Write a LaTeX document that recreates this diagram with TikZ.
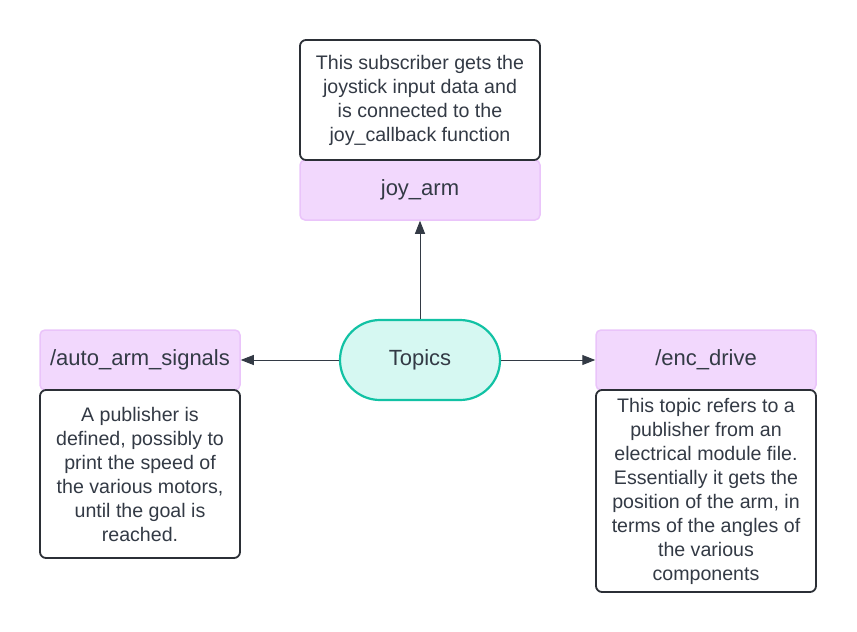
\documentclass[tikz,border=0pt]{standalone}
\usepackage{fontspec}
\setmainfont{Liberation Sans}
\usetikzlibrary{arrows.meta}
\definecolor{namefill}{HTML}{F2D8FD}
\definecolor{namedraw}{HTML}{EAC4FA}
\definecolor{hubfill}{HTML}{D6F8F2}
\definecolor{hubdraw}{HTML}{12C2A4}
\definecolor{inkgray}{HTML}{333A45}
\definecolor{notedraw}{HTML}{2B2F36}
\newcommand{\notefont}{\fontsize{19.6}{24}\selectfont}
\newcommand{\namefont}{\fontsize{22}{26}\selectfont}

\begin{document}
\begin{tikzpicture}[x=1pt,y=-1pt,
    topicname/.style={rectangle, rounded corners=5pt, draw=namedraw, fill=namefill,
        line width=1.5pt, text=inkgray, font=\namefont, inner sep=0pt, minimum height=60pt},
    note/.style={rectangle, rounded corners=6pt, draw=notedraw, fill=white,
        line width=1.8pt, text=inkgray, font=\notefont, align=center, inner sep=0pt},
    hub/.style={rectangle, rounded corners=40pt, draw=hubdraw, fill=hubfill,
        line width=2.2pt, text=inkgray, font=\namefont, minimum width=160pt, minimum height=80pt},
    link/.style={draw=inkgray, line width=1pt, -{Triangle[length=13pt,width=10pt]}}]
\useasboundingbox (0,0) rectangle (857,632);

    % centre
    \node[hub] (topics) at (420,360) {Topics};

    % top: subscriber
    \node[topicname, minimum width=240pt] (joy) at (420,190) {joy\_arm};
    \node[note, minimum width=240pt, minimum height=120pt] (joynote) at (420,100)
        {This subscriber gets the\\joystick input data and\\is connected to the\\joy\_callback function};

    % left: publisher
    \node[topicname, minimum width=200pt] (auto) at (140,360) {/auto\_arm\_signals};
    \node[note, minimum width=200pt, minimum height=168pt] (autonote) at (140,474)
        {A publisher is\\defined, possibly to\\print the speed of\\the various motors,\\until the goal is\\reached.};

    % right: encoder
    \node[topicname, minimum width=220pt] (enc) at (706,360) {/enc\_drive};
    \node[note, minimum width=220pt, minimum height=202pt] (encnote) at (706,491)
        {This topic refers to a\\publisher from an\\electrical module file.\\Essentially it gets the\\position of the arm, in\\terms of the angles of\\the various\\components};

    \draw[link] (topics) -- (joy);
    \draw[link] (topics) -- (auto);
    \draw[link] (topics) -- (enc);
\end{tikzpicture}
\end{document}
